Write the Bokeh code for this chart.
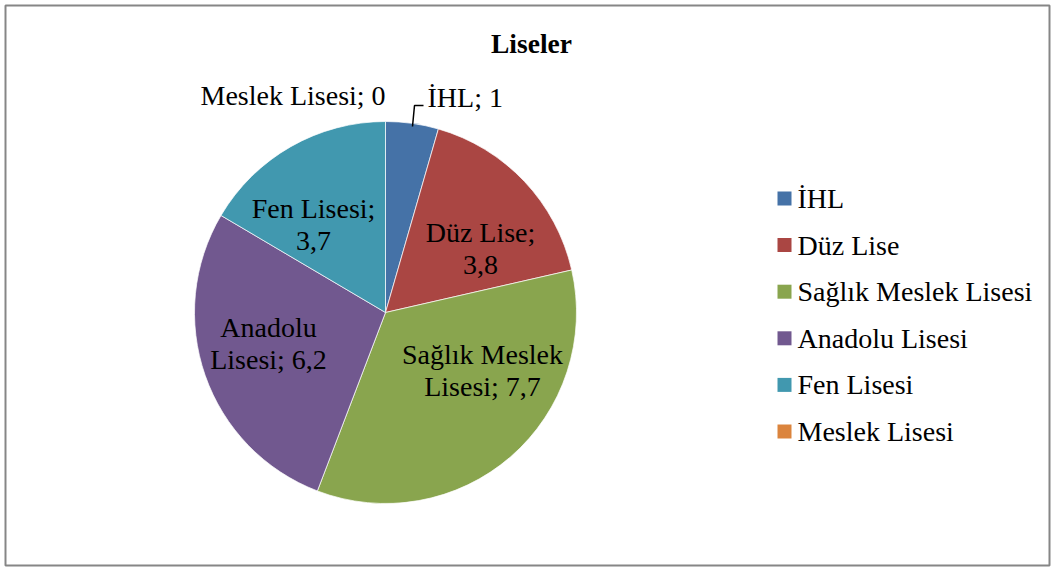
import math
from bokeh.plotting import figure
from bokeh.models import Range1d, ColumnDataSource
from bokeh.core.properties import value
from bokeh.embed import file_html
from bokeh.resources import INLINE

# ---- data ----
categories = ["İHL", "Düz Lise", "Sağlık Meslek Lisesi", "Anadolu Lisesi", "Fen Lisesi", "Meslek Lisesi"]
values = [1.0, 3.8, 7.7, 6.2, 3.7, 0.0]
value_labels = ["1", "3,8", "7,7", "6,2", "3,7", "0"]
colors = ["#4572A7", "#AA4643", "#89A54E", "#71588F", "#4198AF", "#DB843D"]
title = "Liseler"

W, H = 1051, 567
FONT = "Liberation Serif"
FS = "28px"


def py(page_y):
    # convert page pixel y (top-down) to data y (bottom-up)
    return H - page_y


p = figure(width=W, height=H, output_backend="svg", toolbar_location=None,
           x_range=Range1d(0, W), y_range=Range1d(0, H),
           min_border=0)
p.axis.visible = False
p.grid.visible = False
p.outline_line_color = None
p.background_fill_color = "white"
p.border_fill_color = "white"

# chart border
p.quad(left=[5], right=[1049], bottom=[py(565)], top=[py(5)], fill_color=None,
       line_color="#868686", line_width=2)

# pie geometry
cx, cy, r = 385, py(312), 191
total = sum(values)
starts, ends = [], []
acc = 0.0
for v in values:
    a0 = math.pi / 2 - 2 * math.pi * acc / total
    acc += v
    a1 = math.pi / 2 - 2 * math.pi * acc / total
    starts.append(a1)
    ends.append(a0)

nz = [i for i, v in enumerate(values) if v > 0]
src_nz = ColumnDataSource(dict(start=[starts[i] for i in nz], end=[ends[i] for i in nz],
                               color=[colors[i] for i in nz]))
p.wedge(x=cx, y=cy, radius=r, start_angle="start", end_angle="end",
        fill_color="color", line_color="white", line_width=0.7, source=src_nz)

# title
p.text(x=[531], y=[py(43)], text=[title], text_font=value(FONT), text_font_size="27.5px",
       text_font_style="bold", text_align="center", text_baseline="middle", text_color="black")

# data labels (annotation text)
lab_lines = {
    1: ([categories[1] + ";", value_labels[1]], 480, 232),
    2: (["Sağlık Meslek", "Lisesi; " + value_labels[2]], 482, 354),
    3: (["Anadolu", "Lisesi; " + value_labels[3]], 268, 327),
    4: ([categories[4] + ";", value_labels[4]], 313, 208),
}
lx, ly, lt = [], [], []
for i, (lines, x0, y0) in lab_lines.items():
    for k, t in enumerate(lines):
        lx.append(x0)
        ly.append(py(y0 + 32 * k))
        lt.append(t)
p.text(x=lx, y=ly, text=lt, text_font=value(FONT), text_font_size=FS,
       text_align="center", text_baseline="middle", text_color="black")

# outside labels
p.text(x=[200], y=[py(95)], text=[categories[5] + "; " + value_labels[5]], text_font=value(FONT),
       text_font_size=FS, text_align="left", text_baseline="middle", text_color="black")
p.text(x=[427], y=[py(97)], text=[categories[0] + "; " + value_labels[0]], text_font=value(FONT),
       text_font_size=FS, text_align="left", text_baseline="middle", text_color="black")
# leader line for İHL
p.line(x=[412, 414, 423], y=[py(126), py(105), py(105)], line_color="black", line_width=1.5)

# legend (manual)
leg_y = [198 + 46.6 * i for i in range(len(categories))]
p.rect(x=[784] * len(categories), y=[py(v) for v in leg_y], width=14, height=14,
       fill_color=colors, line_color=None)
p.text(x=[797] * len(categories), y=[py(v) for v in leg_y], text=categories,
       text_font=value(FONT), text_font_size=FS, text_align="left",
       text_baseline="middle", text_color="black")

open("out.html", "w").write(file_html(p, INLINE))
